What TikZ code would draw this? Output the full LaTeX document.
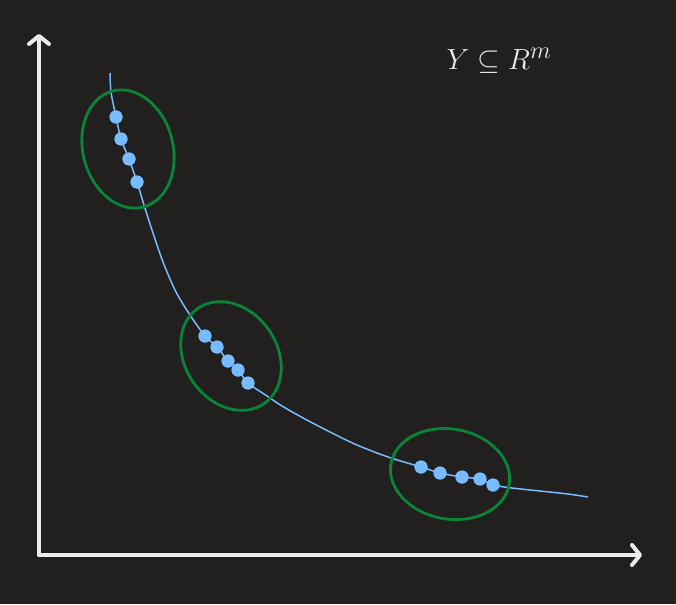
\documentclass[tikz,border=0pt]{standalone}
\usetikzlibrary{arrows.meta}
\definecolor{bgc}{RGB}{33,32,31}
\definecolor{axisc}{RGB}{235,235,235}
\definecolor{bluec}{RGB}{118,188,255}
\definecolor{greenc}{RGB}{8,133,56}
\begin{document}
\begin{tikzpicture}[x=1pt,y=-1pt,
  axis/.style={draw=axisc,line width=4pt,line cap=round,
    -{Straight Barb[length=8pt,width=20pt,line width=4pt,round]}},
  curve/.style={draw=bluec,line width=1.5pt},
  dot/.style={circle,fill=bluec,inner sep=0pt,minimum size=13pt},
  group/.style={draw=greenc,line width=2.8pt}]
\fill[bgc] (0,0) rectangle (676,604);
\useasboundingbox (0,0) rectangle (676,604);
% axes
\coordinate (O) at (39,555);
\coordinate (ytop) at (39,34);
\coordinate (xend) at (642,555);
\draw[axis] (O) -- (ytop);
\draw[axis] (O) -- (xend);
% curve points
\coordinate (c0) at (110,73);
\coordinate (c1) at (111,92);
\coordinate (c2) at (144,205);
\coordinate (c3) at (152,230);
\coordinate (c4) at (163,262);
\coordinate (c5) at (176,292);
\coordinate (c6) at (190,315);
\coordinate (c7) at (264,394);
\coordinate (c8) at (282,406);
\coordinate (c9) at (305,419);
\coordinate (c10) at (332,433);
\coordinate (c11) at (357,445);
\coordinate (c12) at (388,457);
\coordinate (c13) at (512,488);
\coordinate (c14) at (540,491);
\coordinate (c15) at (568,494);
\coordinate (c16) at (588,497);
% dots
\node[dot] (a1) at (116,117) {};
\node[dot] (a2) at (121,139) {};
\node[dot] (a3) at (129,159) {};
\node[dot] (a4) at (137,182) {};
\node[dot] (b1) at (205,336) {};
\node[dot] (b2) at (217,347) {};
\node[dot] (b3) at (228,361) {};
\node[dot] (b4) at (238,370) {};
\node[dot] (b5) at (248,383) {};
\node[dot] (e1) at (421,467) {};
\node[dot] (e2) at (440,473) {};
\node[dot] (e3) at (462,477) {};
\node[dot] (e4) at (480,479) {};
\node[dot] (e5) at (493,485) {};
\draw[curve] plot[smooth,tension=0.5] coordinates {(c0) (c1) (a1.center) (a2.center) (a3.center) (a4.center) (c2) (c3) (c4) (c5) (c6) (b1.center) (b2.center) (b3.center) (b4.center) (b5.center) (c7) (c8) (c9) (c10) (c11) (c12) (e1.center) (e2.center) (e3.center) (e4.center) (e5.center) (c13) (c14) (c15) (c16)};
% redraw dots on top
\foreach \n in {a1,a2,a3,a4,b1,b2,b3,b4,b5,e1,e2,e3,e4,e5}{\fill[bluec] (\n.center) circle[radius=6.5pt];}
% groups
\coordinate (g1) at (128,149);
\coordinate (g2) at (231,356);
\coordinate (g3) at (450,474);
\draw[group,rotate around={15:(g1)}] (g1) ellipse[x radius=45pt,y radius=60pt];
\draw[group,rotate around={35:(g2)}] (g2) ellipse[x radius=46pt,y radius=58pt];
\draw[group,rotate around={-10:(g3)}] (g3) ellipse[x radius=60pt,y radius=45pt];
% label
\node[text=axisc,font=\fontsize{24.88}{30}\selectfont,scale=1.17,transform shape] (lab) at (499,61) {$Y \subseteq R^{m}$};
\end{tikzpicture}
\end{document}
